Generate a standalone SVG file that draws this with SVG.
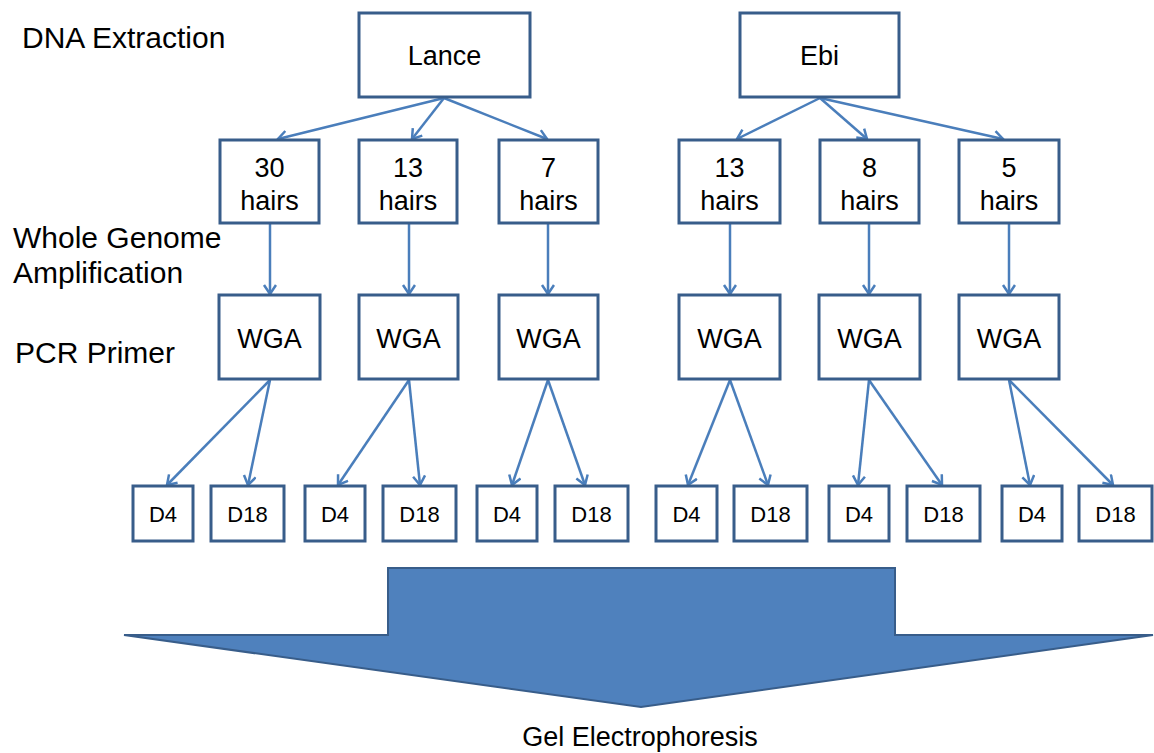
<svg xmlns="http://www.w3.org/2000/svg" width="1154" height="753" viewBox="0 0 1154 753">
<defs>
<style>
.box{fill:#fff;stroke:#385D8A;stroke-width:3}
.t{font-family:"Liberation Sans",Arial,sans-serif;fill:#000;text-anchor:middle}
.bt{font-size:27px}
.dt{font-size:22px}
.lab{font-family:"Liberation Sans",Arial,sans-serif;font-size:30px;fill:#000}
.c{stroke:#4A7EBB;stroke-width:2.5;fill:none;marker-end:url(#ah)}
</style>
<marker id="ah" markerUnits="userSpaceOnUse" markerWidth="16" markerHeight="16" refX="10" refY="7" orient="auto">
<path d="M1,1 L10,7 L1,13" fill="none" stroke="#4A7EBB" stroke-width="2.5"/>
</marker>
</defs>
<rect width="1154" height="753" fill="#fff"/>
<g id="labels">
<text class="lab" x="22" y="48">DNA Extraction</text>
<text class="lab" x="13" y="248">Whole Genome</text>
<text class="lab" x="13" y="283">Amplification</text>
<text class="lab" x="15" y="363">PCR Primer</text>
</g>
<g id="connectors">
<line class="c" x1="444" y1="98" x2="278" y2="139"/>
<line class="c" x1="444" y1="98" x2="412" y2="139"/>
<line class="c" x1="444" y1="98" x2="547" y2="139"/>
<line class="c" x1="820" y1="98" x2="737" y2="139"/>
<line class="c" x1="820" y1="98" x2="867" y2="139"/>
<line class="c" x1="820" y1="98" x2="1003" y2="139"/>
<line class="c" x1="270" y1="224" x2="270" y2="294"/>
<line class="c" x1="409" y1="224" x2="409" y2="294"/>
<line class="c" x1="548" y1="224" x2="548" y2="294"/>
<line class="c" x1="730" y1="224" x2="730" y2="294"/>
<line class="c" x1="869" y1="224" x2="869" y2="294"/>
<line class="c" x1="1009" y1="224" x2="1009" y2="294"/>
<line class="c" x1="270" y1="380" x2="167" y2="485"/>
<line class="c" x1="270" y1="380" x2="248" y2="485"/>
<line class="c" x1="409" y1="380" x2="338" y2="485"/>
<line class="c" x1="409" y1="380" x2="420" y2="485"/>
<line class="c" x1="548" y1="380" x2="512" y2="485"/>
<line class="c" x1="548" y1="380" x2="585" y2="485"/>
<line class="c" x1="730" y1="380" x2="688" y2="485"/>
<line class="c" x1="730" y1="380" x2="768" y2="485"/>
<line class="c" x1="869" y1="380" x2="858" y2="485"/>
<line class="c" x1="869" y1="380" x2="942" y2="485"/>
<line class="c" x1="1009" y1="380" x2="1030" y2="485"/>
<line class="c" x1="1009" y1="380" x2="1113" y2="485"/>
</g>
<g id="lance"><rect class="box" x="359" y="13" width="171" height="84"/><text class="t bt" x="444.5" y="65">Lance</text></g>
<g id="ebi"><rect class="box" x="740" y="13" width="159" height="84"/><text class="t bt" x="819.5" y="65">Ebi</text></g>
<g id="h30"><rect class="box" x="220" y="140" width="99" height="83"/><text class="t bt" x="269.5" y="177">30</text><text class="t bt" x="269.5" y="210">hairs</text></g>
<g id="h13a"><rect class="box" x="359" y="140" width="98" height="83"/><text class="t bt" x="408" y="177">13</text><text class="t bt" x="408" y="210">hairs</text></g>
<g id="h7"><rect class="box" x="499" y="140" width="99" height="83"/><text class="t bt" x="548.5" y="177">7</text><text class="t bt" x="548.5" y="210">hairs</text></g>
<g id="h13b"><rect class="box" x="679" y="140" width="101" height="83"/><text class="t bt" x="729.5" y="177">13</text><text class="t bt" x="729.5" y="210">hairs</text></g>
<g id="h8"><rect class="box" x="820" y="140" width="99" height="83"/><text class="t bt" x="869.5" y="177">8</text><text class="t bt" x="869.5" y="210">hairs</text></g>
<g id="h5"><rect class="box" x="959" y="140" width="100" height="83"/><text class="t bt" x="1009" y="177">5</text><text class="t bt" x="1009" y="210">hairs</text></g>
<g id="wga1"><rect class="box" x="219" y="295" width="101" height="84"/><text class="t bt" x="269.5" y="348">WGA</text></g>
<g id="wga2"><rect class="box" x="359" y="295" width="99" height="84"/><text class="t bt" x="408.5" y="348">WGA</text></g>
<g id="wga3"><rect class="box" x="499" y="295" width="99" height="84"/><text class="t bt" x="548.5" y="348">WGA</text></g>
<g id="wga4"><rect class="box" x="679" y="295" width="101" height="84"/><text class="t bt" x="729.5" y="348">WGA</text></g>
<g id="wga5"><rect class="box" x="819" y="295" width="101" height="84"/><text class="t bt" x="869.5" y="348">WGA</text></g>
<g id="wga6"><rect class="box" x="959" y="295" width="100" height="84"/><text class="t bt" x="1009" y="348">WGA</text></g>
<g id="d1"><rect class="box" x="133" y="486" width="60" height="55"/><text class="t dt" x="163" y="522">D4</text></g>
<g id="d2"><rect class="box" x="211" y="486" width="73" height="55"/><text class="t dt" x="247.5" y="522">D18</text></g>
<g id="d3"><rect class="box" x="305" y="486" width="60" height="55"/><text class="t dt" x="335" y="522">D4</text></g>
<g id="d4"><rect class="box" x="383" y="486" width="73" height="55"/><text class="t dt" x="419.5" y="522">D18</text></g>
<g id="d5"><rect class="box" x="477" y="486" width="60" height="55"/><text class="t dt" x="507" y="522">D4</text></g>
<g id="d6"><rect class="box" x="555" y="486" width="73" height="55"/><text class="t dt" x="591.5" y="522">D18</text></g>
<g id="d7"><rect class="box" x="656" y="486" width="61" height="55"/><text class="t dt" x="686.5" y="522">D4</text></g>
<g id="d8"><rect class="box" x="734" y="486" width="73" height="55"/><text class="t dt" x="770.5" y="522">D18</text></g>
<g id="d9"><rect class="box" x="829" y="486" width="60" height="55"/><text class="t dt" x="859" y="522">D4</text></g>
<g id="d10"><rect class="box" x="907" y="486" width="73" height="55"/><text class="t dt" x="943.5" y="522">D18</text></g>
<g id="d11"><rect class="box" x="1002" y="486" width="60" height="55"/><text class="t dt" x="1032" y="522">D4</text></g>
<g id="d12"><rect class="box" x="1079" y="486" width="73" height="55"/><text class="t dt" x="1115.5" y="522">D18</text></g>
<g id="gel">
<path d="M388,568 L895,568 L895,635 L1153,635 L641,707 L124,635 L388,635 Z" fill="#4F81BD" stroke="#385D8A" stroke-width="2"/>
<text class="t" x="640" y="746" font-size="27">Gel Electrophoresis</text>
</g>
</svg>
